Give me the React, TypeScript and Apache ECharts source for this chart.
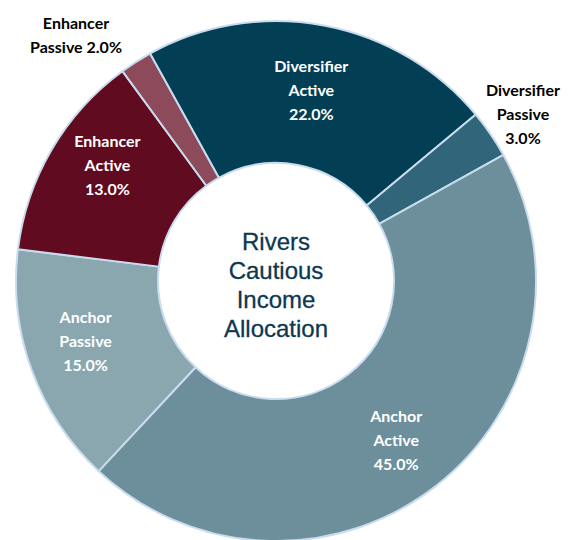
import React, { useEffect, useRef } from "react";
import * as echarts from "echarts";

const categories = [
  "Diversifier Active",
  "Diversifier Passive",
  "Anchor Active",
  "Anchor Passive",
  "Enhancer Active",
  "Enhancer Passive",
];
const values = [22, 3, 45, 15, 13, 2];
const colors = ["#023F55", "#31657A", "#6C8F9B", "#8AA7B0", "#600B20", "#8C4A5A"];
const outsideLabels = ["Diversifier Passive", "Enhancer Passive"];
const centerTitle = ["Rivers", "Cautious", "Income", "Allocation"];

export default function App() {
  const ref = useRef<HTMLDivElement>(null);
  useEffect(() => {
    document.body.style.margin = "0";
    const chart = echarts.init(ref.current!, null, { renderer: "svg" });
    const cx = 276;
    const cy = 281;
    chart.setOption({
      animation: false,
      backgroundColor: "#ffffff",
      graphic: [
        {
          type: "text",
          x: cx,
          y: cy + 4,
          style: {
            text: centerTitle.join("\n"),
            fill: "#0C3850",
            font: "24px 'Liberation Sans', Arial, sans-serif",
            lineHeight: 29,
            align: "center",
            verticalAlign: "middle",
            stroke: "#0C3850",
            lineWidth: 0.3,
          },
          z: 10,
        },
      ],
      series: [
        {
          type: "pie",
          center: [cx, cy],
          radius: [118, 260],
          startAngle: 119,
          clockwise: true,
          avoidLabelOverlap: false,
          itemStyle: { borderColor: "#C9DCEF", borderWidth: 2 },
          label: {
            show: true,
            position: "inside",
            color: "#ffffff",
            fontFamily: "Lato, sans-serif",
            fontWeight: "bold",
            fontSize: 16,
            lineHeight: 24,
            align: "center",
            formatter: (p: any) => {
              const [a, b] = p.name.split(" ");
              const v = Number(p.value).toFixed(1) + "%";
              if (p.name === "Enhancer Passive") return `${a}\n${b} ${v}`;
              return `${a}\n${b}\n${v}`;
            },
          },
          labelLine: { show: false },
          labelLayout: (params: any) => {
            const i = params.dataIndex;
            const name = categories[i];
            if (name === "Diversifier Passive") return { x: 523, y: 113, align: "center", verticalAlign: "middle" };
            if (name === "Enhancer Passive") return { x: 76, y: 34, align: "center", verticalAlign: "middle" };
            const offs: Record<string, [number, number]> = {
              "Diversifier Active": [0, -3],
              "Anchor Active": [2, 7],
              "Anchor Passive": [-10, -6],
              "Enhancer Active": [-3, -19],
            };
            const o = offs[name] || [0, 0];
            return { dx: o[0], dy: o[1] };
          },
          data: categories.map((c, i) => ({
            name: c,
            value: values[i],
            itemStyle: { color: colors[i] },
            label: outsideLabels.includes(c)
              ? { position: "outside", color: "#000000" }
              : undefined,
          })),
        },
      ],
    });
    return () => chart.dispose();
  }, []);
  return <div ref={ref} style={{ width: 571, height: 540 }} />;
}
